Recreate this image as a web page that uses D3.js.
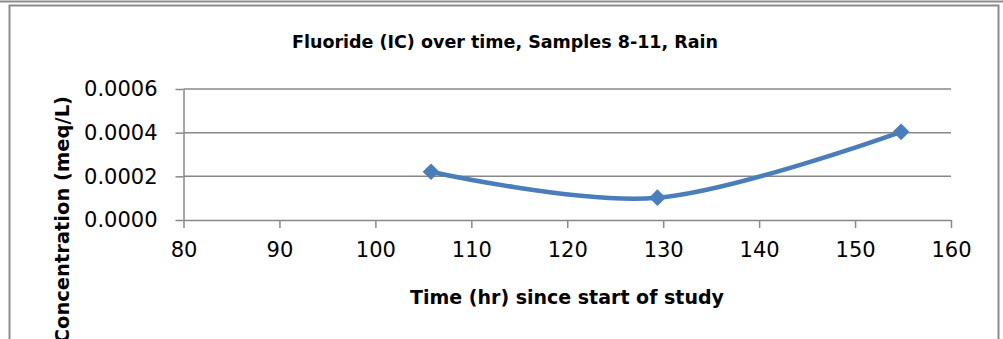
<!DOCTYPE html>
<html>
<head>
<meta charset="utf-8">
<script src="https://cdn.jsdelivr.net/npm/d3@7"></script>
<style>
  body { margin: 0; background: #fff; }
  svg { display: block; font-family: "DejaVu Sans", sans-serif; }
</style>
</head>
<body>
<svg></svg>
<script>
// chart data
let hours = [105.8, 129.4, 154.8]
let fluoride = [0.000221, 0.000102, 0.000404]
let xTicks = [80, 90, 100, 110, 120, 130, 140, 150, 160]
let yTicks = [0, 0.0002, 0.0004, 0.0006]

let width = 1003
let height = 339

let svg = d3.select("svg")
  .attr("width", width)
  .attr("height", height)

// outer frame, bottom is cut off in the original
svg.append("line")
   .attr("x1", 0).attr("x2", width)
   .attr("y1", 1.5).attr("y2", 1.5)
   .attr("stroke", "#8c8c8c")
   .attr("stroke-width", 2)
svg.append("rect")
   .attr("x", 9.5).attr("y", 5.5)
   .attr("width", 989).attr("height", 400)
   .attr("fill", "none")
   .attr("stroke", "#8c8c8c")
   .attr("stroke-width", 2)

let xScale = d3.scaleLinear().domain([80, 160]).range([183.5, 951])
let yScale = d3.scaleLinear().domain([0, 0.0006]).range([220, 89])

// gridlines
svg.append("g")
   .selectAll("line")
   .data(yTicks.slice(1))
   .enter()
   .append("line")
   .attr("x1", xScale(80)).attr("x2", xScale(160))
   .attr("y1", d => yScale(d)).attr("y2", d => yScale(d))
   .attr("stroke", "#888")
   .attr("stroke-width", 1.5)

let xAxis = d3.axisBottom(xScale)
  .tickValues(xTicks)
  .tickSize(8)
  .tickSizeOuter(0)
  .tickPadding(14)
  .tickFormat(d3.format("d"))
let gx = svg.append("g")
   .attr("transform", "translate(0," + yScale(0) + ")")
   .call(xAxis)

let yAxis = d3.axisLeft(yScale)
  .tickValues(yTicks)
  .tickSize(8)
  .tickSizeOuter(0)
  .tickPadding(18)
  .tickFormat(d3.format(".4f"))
let gy = svg.append("g")
   .attr("transform", "translate(" + xScale(80) + ",0)")
   .call(yAxis)

;[gx, gy].forEach(g => {
  g.select(".domain").attr("stroke", "#888").attr("stroke-width", 1.5)
  g.selectAll(".tick line").attr("stroke", "#888").attr("stroke-width", 1.5)
  g.selectAll(".tick text")
   .attr("fill", "#000")
   .style("font-size", "21px")
   .style("font-family", "DejaVu Sans, sans-serif")
})

// smoothed series
let line = d3.line()
  .x((d, i) => xScale(hours[i]))
  .y(d => yScale(d))
  .curve(d3.curveCardinal.tension(0))

svg.append("path")
   .datum(fluoride)
   .attr("d", line)
   .attr("fill", "none")
   .attr("stroke", "#4a7ebb")
   .attr("stroke-width", 4.5)

svg.selectAll(".marker")
   .data(fluoride)
   .enter()
   .append("path")
   .attr("class", "marker")
   .attr("d", d3.symbol().type(d3.symbolSquare).size(140))
   .attr("transform", (d, i) => "translate(" + xScale(hours[i]) + "," + yScale(d) + ") rotate(45)")
   .attr("fill", "#4a7ebb")

// titles
svg.append("text")
   .attr("x", 505)
   .attr("y", 48)
   .attr("text-anchor", "middle")
   .style("font-size", "17.5px")
   .style("font-weight", "bold")
   .text("Fluoride (IC) over time, Samples 8-11, Rain")

svg.append("text")
   .attr("x", 567)
   .attr("y", 304)
   .attr("text-anchor", "middle")
   .style("font-size", "19px")
   .style("font-weight", "bold")
   .text("Time (hr) since start of study")

svg.append("text")
   .attr("transform", "rotate(-90)")
   .attr("x", -96)
   .attr("y", 69)
   .attr("text-anchor", "end")
   .style("font-size", "19.5px")
   .style("font-weight", "bold")
   .text("Concentration (meq/L)")
</script>
</body>
</html>
